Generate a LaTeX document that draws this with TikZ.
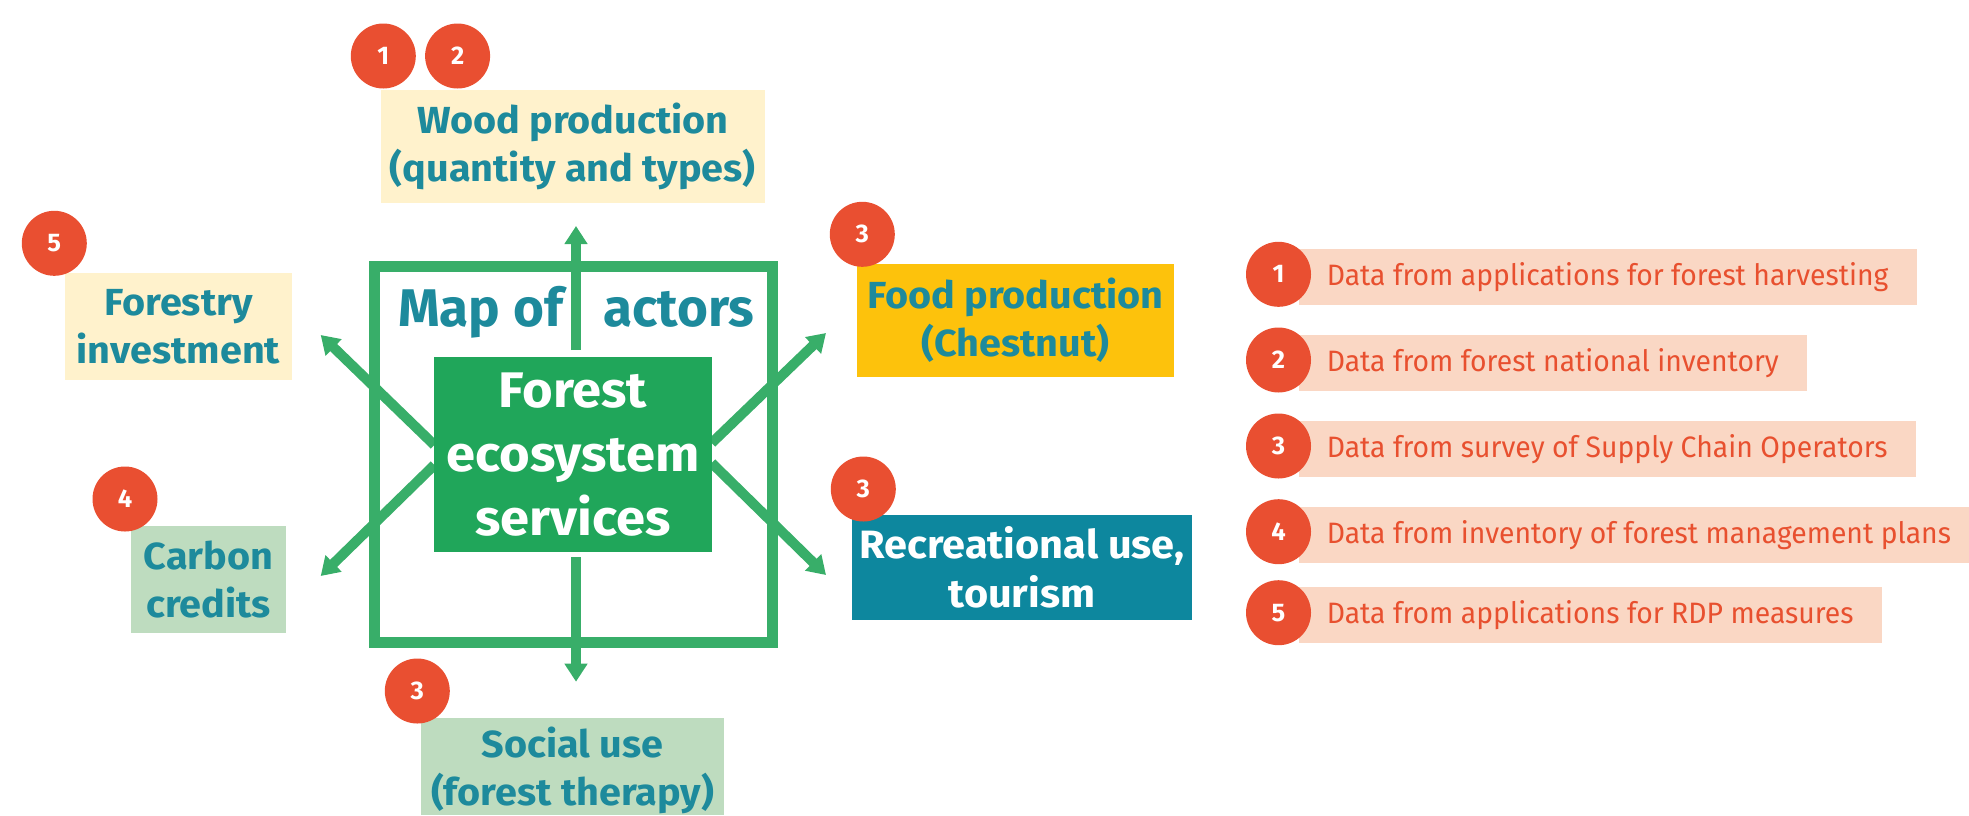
\documentclass[tikz,border=0pt]{standalone}
\usepackage{fontspec}
\setmainfont{Fira Sans}
\newfontfamily\listfont[FakeStretch=0.96]{Fira Sans}
\newfontfamily\lblfont[FakeStretch=1.05]{Fira Sans Bold}
\usetikzlibrary{arrows.meta,calc}
\definecolor{tealtxt}{HTML}{1D8A9C}
\definecolor{badgered}{HTML}{E94F31}
\definecolor{paleyel}{HTML}{FFF2CC}
\definecolor{palegrn}{HTML}{BEDCBF}
\definecolor{forestg}{HTML}{20A65A}
\definecolor{arrowg}{HTML}{38AE69}
\definecolor{foody}{HTML}{FDC20C}
\definecolor{recteal}{HTML}{0D879E}
\definecolor{peach}{HTML}{FAD7C4}
\definecolor{listred}{HTML}{E8502F}
\begin{document}
\begin{tikzpicture}[x=1pt,y=-1pt,
  lbl/.style={inner sep=0pt, align=center, text=tealtxt,
    font=\lblfont\fontsize{37.7}{48}\selectfont},
  badge/.style={circle, fill=badgered, minimum size=65pt, inner sep=0pt,
    text=white, font=\bfseries\fontsize{25.5}{25.5}\selectfont},
  bar/.style={fill=peach, anchor=west, minimum height=55.7pt, inner xsep=28.3pt,
    inner ysep=0pt, text=listred, font=\listfont\fontsize{29.5}{29.5}\selectfont},
  arr/.style={draw=arrowg, line width=10pt, -{Triangle[width=22pt,length=18pt]}},
]
\clip (0,0) rectangle (1969,815);
\useasboundingbox (0,0) rectangle (1969,815);

% map square
\node[draw=arrowg, line width=11pt, minimum width=397.4pt, minimum height=376pt,
  inner sep=0pt] (map) at (573.3,454) {};
\node[anchor=base west, inner sep=0pt, text=tealtxt,
  font=\bfseries\fontsize{53}{60}\selectfont] (mapof) at (398,326) {Map of};
\node[anchor=base west, inner sep=0pt, text=tealtxt,
  font=\bfseries\fontsize{53}{60}\selectfont] (actors) at (603,326) {actors};

% coordinates of arrow ends
\coordinate (upS) at (576,350);   \coordinate (upT) at (576,226);
\coordinate (dnS) at (576,557);   \coordinate (dnT) at (576,681.7);
\coordinate (urS) at (711.7,443); \coordinate (urT) at (826,333);
\coordinate (lrS) at (711.7,463); \coordinate (lrT) at (826,575);
\coordinate (ulS) at (434.3,445); \coordinate (ulT) at (320.7,335);
\coordinate (llS) at (434.3,465); \coordinate (llT) at (320.7,576);

\draw[arr] (upS) -- (upT);
\draw[arr] (dnS) -- (dnT);
\draw[arr] (urS) -- (urT);
\draw[arr] (lrS) -- (lrT);
\draw[arr] (ulS) -- (ulT);
\draw[arr] (llS) -- (llT);

% central box
\node[fill=forestg, minimum width=277.4pt, minimum height=195pt, inner sep=0pt,
  align=center, text=white, font=\lblfont\fontsize{50}{64}\selectfont]
  (fes) at (573,454.2) {Forest\\ecosystem\\services};

% outer boxes
\node[lbl, fill=paleyel, minimum width=384.3pt, minimum height=113.3pt]
  (wood) at (572.85,146.65) {Wood production\\(quantity and types)};
\node[lbl, fill=paleyel, minimum width=227pt, minimum height=107pt]
  (forinv) at (178.5,326.5) {Forestry\\investment};
\node[lbl, fill=palegrn, minimum width=155pt, minimum height=107pt]
  (carbon) at (208.5,579.5) {Carbon\\credits};
\node[lbl, fill=foody, minimum width=317pt, minimum height=113pt]
  (food) at (1015.5,320.5) {Food production\\(Chestnut)};
\node[lbl, fill=recteal, text=white, minimum width=340pt, minimum height=105pt,
  font=\lblfont\fontsize{39.5}{49}\selectfont]
  (rec) at (1022,567.5) {Recreational use,\\tourism};
\fill[palegrn] (421,717.7) rectangle (724,815);
\node[lbl] (social) at (572.5,770) {Social use\\(forest therapy)};

% badges near boxes
\node[badge] (bw1) at (383.3,56) {1};
\node[badge] (bw2) at (457.6,56) {2};
\node[badge] (bf5) at (54.3,243.3) {5};
\node[badge] (bc4) at (125,499) {4};
\node[badge] (bfo3) at (862.3,234.3) {3};
\node[badge] (br3) at (863.3,489) {3};
\node[badge] (bs3) at (417.3,691) {3};

% legend
\node[bar] (l1) at (1298.3,276.8) {Data from applications for forest harvesting};
\node[bar] (l2) at (1298.3,362.8) {Data from forest national inventory};
\node[bar] (l3) at (1298.3,448.8) {Data from survey of Supply Chain Operators};
\node[bar] (l4) at (1298.3,534.8) {Data from inventory of forest management plans};
\node[bar] (l5) at (1298.3,614.8) {Data from applications for RDP measures};
\node[badge] (n1) at (1278.5,274.3) {1};
\node[badge] (n2) at (1278.5,360) {2};
\node[badge] (n3) at (1278.5,446) {3};
\node[badge] (n4) at (1278.5,531.7) {4};
\node[badge] (n5) at (1278.5,612.7) {5};
\end{tikzpicture}
\end{document}
